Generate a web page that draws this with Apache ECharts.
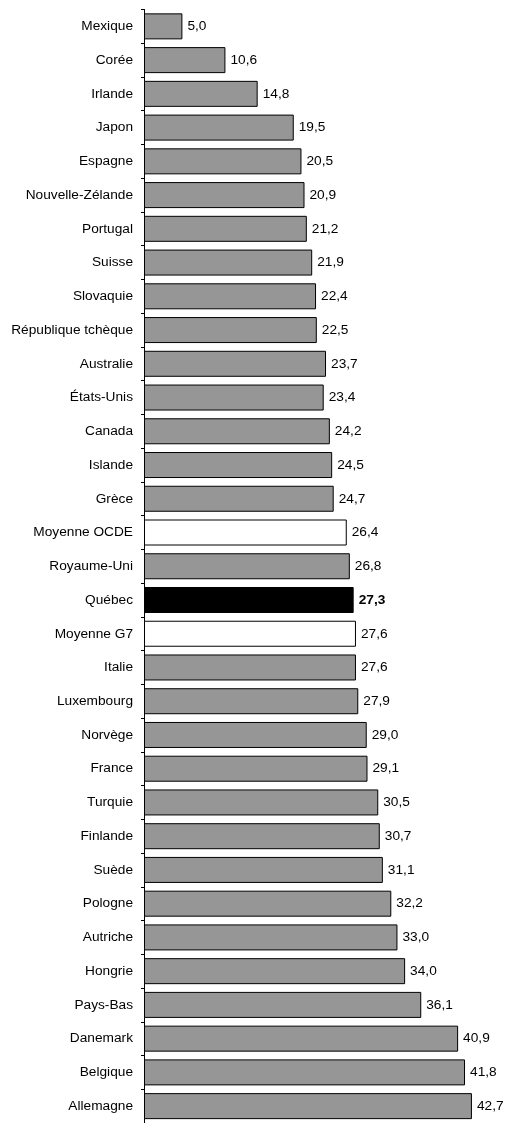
<!DOCTYPE html>
<html>
<head>
<meta charset="utf-8">
<script src="https://cdn.jsdelivr.net/npm/echarts@6/dist/echarts.min.js"></script>
<style>
html,body{margin:0;padding:0;background:#fff;}
#chart{width:506px;height:1123px;}
</style>
</head>
<body>
<div id="chart"></div>
<script>
const categories = ['Mexique','Corée','Irlande','Japon','Espagne','Nouvelle-Zélande','Portugal','Suisse','Slovaquie','République tchèque','Australie','États-Unis','Canada','Islande','Grèce','Moyenne OCDE','Royaume-Uni','Québec','Moyenne G7','Italie','Luxembourg','Norvège','France','Turquie','Finlande','Suède','Pologne','Autriche','Hongrie','Pays-Bas','Danemark','Belgique','Allemagne'];
const values = [5.0,10.6,14.8,19.5,20.5,20.9,21.2,21.9,22.4,22.5,23.7,23.4,24.2,24.5,24.7,26.4,26.8,27.3,27.6,27.6,27.9,29.0,29.1,30.5,30.7,31.1,32.2,33.0,34.0,36.1,40.9,41.8,42.7];
const averageCategories = ['Moyenne OCDE','Moyenne G7'];
const focusCategory = 'Québec';

const fmt = v => v.toFixed(1).replace('.', ',');

const seriesData = values.map((v, i) => {
  const c = categories[i];
  const item = { value: v };
  if (c === focusCategory) {
    item.itemStyle = { color: '#000000' };
    item.label = { fontWeight: 'bold' };
  } else if (averageCategories.includes(c)) {
    item.itemStyle = { color: '#ffffff' };
  }
  return item;
});

const chart = echarts.init(document.getElementById('chart'), null, { renderer: 'canvas' });
chart.setOption({
  animation: false,
  backgroundColor: '#ffffff',
  grid: { left: 144, top: 9.5, width: 345.6, height: 1117.8, containLabel: false },
  xAxis: {
    type: 'value', min: 0, max: 45,
    show: false
  },
  yAxis: {
    type: 'category',
    data: categories,
    inverse: true,
    axisLine: { show: true, lineStyle: { color: '#000', width: 1 } },
    axisTick: { show: true, length: 3, lineStyle: { color: '#000' } },
    axisLabel: { color: '#000', fontFamily: 'Liberation Sans, Arial, sans-serif', fontSize: 13.7, margin: 11 },
    splitLine: { show: false }
  },
  series: [{
    type: 'bar',
    data: seriesData,
    barWidth: 26,
    itemStyle: { color: '#969696', borderColor: '#000', borderWidth: 1 },
    label: {
      show: true, position: 'right', distance: 5,
      color: '#000', fontFamily: 'Liberation Sans, Arial, sans-serif', fontSize: 13.7,
      formatter: p => fmt(p.value)
    }
  }]
});
</script>
</body>
</html>
